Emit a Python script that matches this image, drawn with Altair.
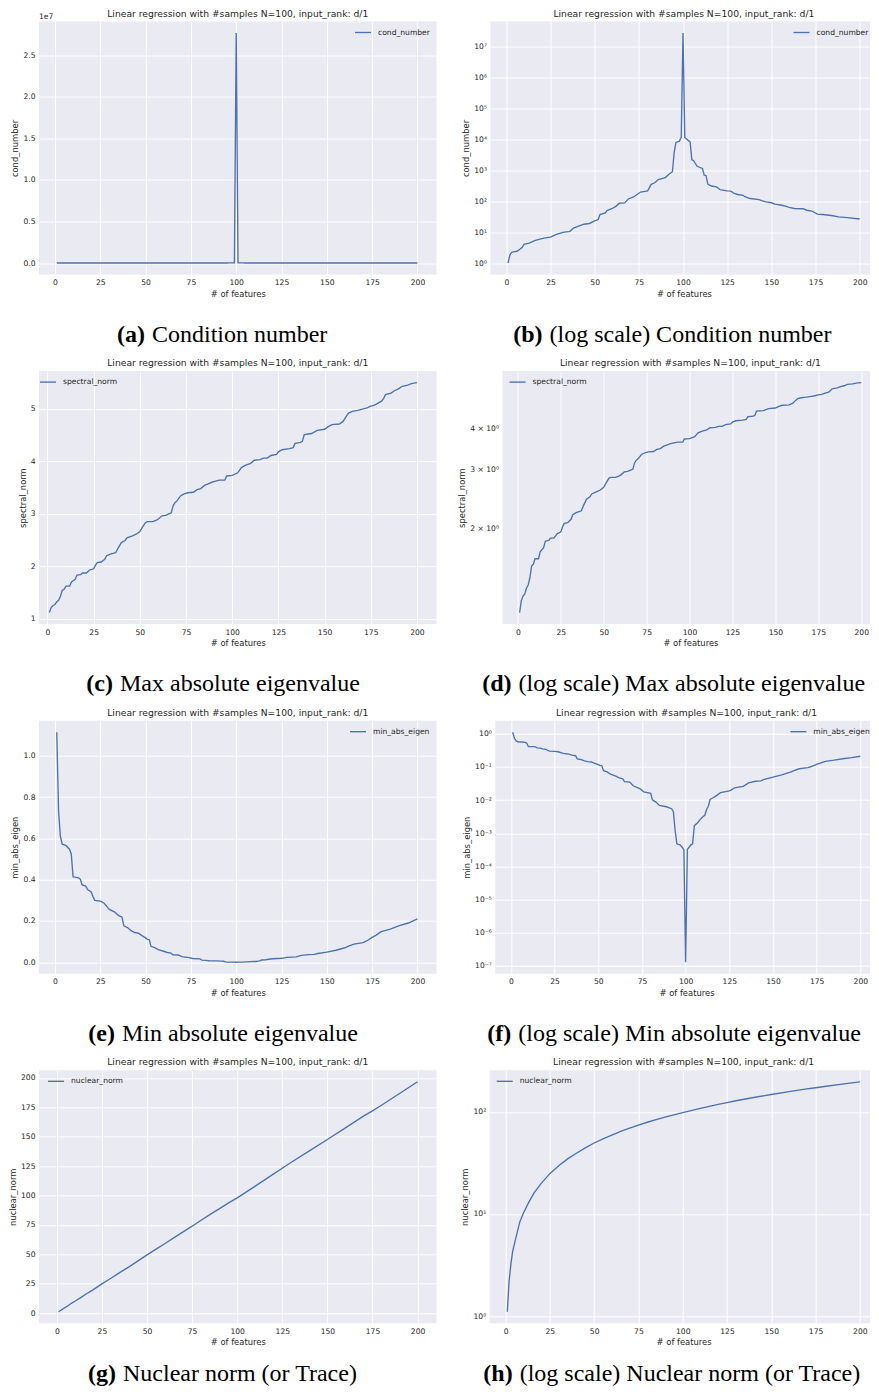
import json
import math
import altair as alt
import pandas as pd

TITLE = "Linear regression with #samples N=100, input_rank: d/1"
X_TITLE = "# of features"
X_TICKS = [0, 25, 50, 75, 100, 125, 150, 175, 200]
BLUE = "#4C72B0"
TXT = "#262626"
SERIF = "Liberation Serif"
SANS = "DejaVu Sans"

# ---- data ----
cond_features = [1, 2, 3, 4, 6, 7, 9, 10, 13, 16,
                 19, 22, 25, 28, 32, 36, 38, 42, 44, 47,
                 50, 52, 53, 56, 57, 60, 62, 64, 67, 69,
                 72, 74, 76, 80, 82, 84, 86, 90, 92, 94,
                 95, 96, 98, 99, 100, 101, 104, 105, 106, 108,
                 111, 112, 113, 114, 116, 119, 121, 125, 127, 129,
                 131, 134, 135, 138, 143, 145, 147, 150, 152, 156,
                 158, 160, 163, 168, 170, 173, 176, 179, 184, 188,
                 193, 200]
cond_number = [1.0, 1.8, 2.2, 2.3, 2.4, 2.6, 3.2, 4.0, 4.4, 5.3,
               5.9, 6.5, 6.9, 8.3, 9.8, 10.6, 13.5, 16.5, 18, 19,
               23, 25.5, 37, 42, 50, 58, 68, 86, 88, 118,
               137, 165, 198, 215, 350, 395, 500, 580, 740, 900,
               3800, 8000, 8800, 12000, 2.77e7, 11500, 8300, 2200, 2050, 1350,
               1150, 700, 680, 360, 310, 290, 235, 215, 212, 178,
               165, 155, 140, 122, 113, 103, 95, 89, 80, 74,
               69, 63, 58, 57, 51, 48, 38, 37, 34.5, 31,
               29.5, 26.5]

spec_features = [1, 2, 3, 4, 5, 6, 7, 8, 9, 10,
                 12, 13, 15, 16, 18, 19, 21, 23, 25, 26,
                 27, 29, 31, 32, 34, 36, 37, 38, 40, 42,
                 43, 46, 48, 50, 51, 53, 54, 57, 59, 60,
                 62, 64, 66, 67, 68, 69, 70, 72, 74, 76,
                 79, 81, 83, 85, 87, 89, 91, 93, 96, 97,
                 100, 103, 105, 107, 110, 112, 115, 117, 119, 121,
                 124, 125, 127, 131, 133, 134, 137, 138, 139, 143,
                 146, 150, 152, 154, 158, 160, 162, 163, 165, 168,
                 171, 173, 175, 177, 179, 181, 182, 183, 186, 188,
                 190, 192, 195, 197, 200]
spectral_norm = [1.115, 1.21, 1.25, 1.27, 1.32, 1.35, 1.42, 1.54, 1.56, 1.62,
                 1.62, 1.70, 1.75, 1.83, 1.84, 1.87, 1.87, 1.93, 1.95, 2.02,
                 2.07, 2.08, 2.13, 2.20, 2.23, 2.25, 2.26, 2.33, 2.45, 2.49,
                 2.54, 2.58, 2.61, 2.66, 2.72, 2.83, 2.85, 2.85, 2.88, 2.90,
                 2.96, 2.97, 3.0, 3.02, 3.15, 3.21, 3.24, 3.34, 3.38, 3.40,
                 3.41, 3.46, 3.48, 3.54, 3.57, 3.60, 3.62, 3.64, 3.64, 3.72,
                 3.73, 3.78, 3.88, 3.92, 3.96, 4.02, 4.03, 4.06, 4.06, 4.11,
                 4.13, 4.18, 4.22, 4.24, 4.26, 4.34, 4.36, 4.38, 4.51, 4.53,
                 4.59, 4.61, 4.66, 4.70, 4.71, 4.76, 4.87, 4.92, 4.95, 4.97,
                 5.0, 5.02, 5.05, 5.07, 5.11, 5.15, 5.20, 5.27, 5.30, 5.35,
                 5.38, 5.43, 5.45, 5.48, 5.50]

min_features = [1, 2, 3, 4, 6, 8, 9, 10, 13, 14,
                15, 17, 18, 20, 21, 22, 25, 27, 29, 30,
                33, 35, 37, 38, 40, 42, 44, 46, 48, 50,
                51, 52, 53, 55, 57, 60, 62, 64, 65, 68,
                70, 74, 76, 80, 81, 83, 85, 89, 92, 93,
                94, 95, 97, 98, 99, 100, 101, 102, 103, 104,
                105, 107, 108, 110, 111, 112, 113, 114, 116, 117,
                120, 125, 126, 128, 133, 136, 140, 143, 145, 150,
                155, 160, 162, 165, 170, 172, 175, 177, 180, 185,
                190, 195, 200]
min_abs_eigen = [1.115, 0.73, 0.61, 0.572, 0.566, 0.548, 0.525, 0.414, 0.409, 0.402,
                 0.375, 0.369, 0.352, 0.34, 0.318, 0.30, 0.296, 0.287, 0.266, 0.256,
                 0.243, 0.227, 0.218, 0.176, 0.168, 0.153, 0.144, 0.141, 0.129, 0.118,
                 0.111, 0.110, 0.077, 0.071, 0.061, 0.053, 0.047, 0.044, 0.036, 0.035,
                 0.027, 0.022, 0.0178, 0.016, 0.0102, 0.0087, 0.0069, 0.0063, 0.0055, 0.0045,
                 0.0012, 0.00048, 0.00044, 0.00038, 0.00032, 1.3e-7, 0.00033, 0.00038, 0.00045, 0.00048,
                 0.0017, 0.0021, 0.0025, 0.0032, 0.0035, 0.0052, 0.0065, 0.0105, 0.012, 0.013,
                 0.0168, 0.019, 0.020, 0.0235, 0.026, 0.033, 0.037, 0.038, 0.042, 0.049,
                 0.058, 0.07, 0.078, 0.088, 0.095, 0.103, 0.12, 0.13, 0.148, 0.16,
                 0.177, 0.19, 0.21]

nuc_features = [1, 2, 3, 4, 6, 8, 10, 13, 16, 20,
                25, 30, 35, 40, 45, 50, 55, 60, 65, 70,
                75, 80, 85, 90, 95, 100, 110, 120, 125, 130,
                140, 150, 160, 170, 175, 180, 190, 200]
nuclear_norm = [1.1, 2.2, 3.2, 4.3, 6.0, 8.3, 10.1, 12.9, 16.0, 19.8,
                24.8, 29.6, 34.6, 39.3, 44.4, 49.5, 54.4, 59.2, 64.2, 69.1,
                73.9, 79.0, 84.0, 88.6, 93.5, 98.0, 108.0, 118.2, 123.2, 128.3,
                138.0, 147.6, 157.5, 167.5, 172.0, 176.8, 186.8, 196.7]

SUP = str.maketrans("-0123456789", "⁻⁰¹²³⁴⁵⁶⁷⁸⁹")


def pow10_expr(lo, hi):
    arr = ["10" + str(e).translate(SUP) for e in range(lo, hi + 1)]
    return f"{json.dumps(arr, ensure_ascii=False)}[round(log(datum.value)/LN10) - ({lo})]"


def lin_domain(vals):
    lo, hi = min(vals), max(vals)
    m = 0.05 * (hi - lo)
    return [lo - m, hi + m]


def log_domain(vals):
    lo, hi = math.log10(min(vals)), math.log10(max(vals))
    m = 0.05 * (hi - lo)
    return [10 ** (lo - m), 10 ** (hi + m)]


X_DOMAIN = lin_domain([1, 200])
PLOT_H = 253
CAP_Y = 320
CAP_Y_LAST = 311
LEGEND_Y = 2
LEFT_W = 397.5


def panel(feats, vals, name, width, log, y_ticks, label_expr, y_grid, legend_x,
          cap_bold, cap_text, cap_split, cap_y=CAP_Y, x_domain=X_DOMAIN, extra=()):
    df = pd.DataFrame({"features": feats, "value": vals, "series": name})
    if log:
        yscale = alt.Scale(type="log", domain=log_domain(vals), nice=False)
    else:
        yscale = alt.Scale(domain=lin_domain(vals), nice=False, zero=False)
    ax = dict(values=y_ticks, title=name, grid=y_grid)
    if label_expr:
        ax["labelExpr"] = label_expr
    line = alt.Chart(df).mark_line(strokeWidth=1.35, clip=True).encode(
        x=alt.X("features:Q",
                scale=alt.Scale(domain=x_domain, nice=False, zero=False),
                axis=alt.Axis(values=X_TICKS, title=X_TITLE, labelFlush=False)),
        y=alt.Y("value:Q", scale=yscale, axis=alt.Axis(**ax)),
        color=alt.Color("series:N",
                        scale=alt.Scale(domain=[name], range=[BLUE]),
                        legend=alt.Legend(title=None, orient="none",
                                          legendX=legend_x, legendY=LEGEND_Y)),
    )
    txt_df = pd.DataFrame({"title": [TITLE], "bold": [cap_bold], "text": [cap_text]})
    title = alt.Chart(txt_df).mark_text(
        font=SANS, fontSize=9.2, color=TXT, align="center", baseline="middle"
    ).encode(text="title:N", x=alt.value(width / 2), y=alt.value(-8))
    cap_b = alt.Chart(txt_df).mark_text(
        font=SERIF, fontSize=24, fontWeight="bold", align="right",
        baseline="alphabetic", color="black"
    ).encode(text="bold:N", x=alt.value(cap_split), y=alt.value(cap_y))
    cap_t = alt.Chart(txt_df).mark_text(
        font=SERIF, fontSize=24, align="left", baseline="alphabetic", color="black"
    ).encode(text="text:N", x=alt.value(cap_split + 7), y=alt.value(cap_y))
    return alt.layer(line, title, cap_b, cap_t, *extra).properties(
        width=width, height=PLOT_H
    )


offset_df = pd.DataFrame({"t": ["1e7"]})
offset_text = alt.Chart(offset_df).mark_text(
    font=SANS, fontSize=7.6, color=TXT, align="left", baseline="middle"
).encode(text="t:N", x=alt.value(0), y=alt.value(-5))

pa = panel(cond_features, cond_number, "cond_number", LEFT_W, False,
           [0, 5e6, 1e7, 1.5e7, 2e7, 2.5e7], "format(datum.value/1e7, '.1f')", True, 315,
           "(a)", "Condition number", 106, x_domain=[-8.8, 210.5], extra=(offset_text,))
pb = panel(cond_features, cond_number, "cond_number", 386.8, True,
           [10 ** e for e in range(0, 8)], pow10_expr(0, 7), True, 302,
           "(b)", "(log scale) Condition number", 52)
pc = panel(spec_features, spectral_norm, "spectral_norm", LEFT_W, False,
           [1, 2, 3, 4, 5], None, True, 0,
           "(c)", "Max absolute eigenvalue", 74, x_domain=[-4.6, 210.6])
pd_ = panel(spec_features, spectral_norm, "spectral_norm", 375.8, True,
            [2, 3, 4], "datum.value + ' × 10⁰'", False, 6,
            "(d)", "(log scale) Max absolute eigenvalue", 9)
pe = panel(min_features, min_abs_eigen, "min_abs_eigen", LEFT_W, False,
           [0, 0.2, 0.4, 0.6, 0.8, 1.0], "format(datum.value, '.1f')", True, 310,
           "(e)", "Min absolute eigenvalue", 76, x_domain=[-8.8, 210.5])
pf = panel(min_features, min_abs_eigen, "min_abs_eigen", 382.4, True,
           [10.0 ** e for e in range(-7, 1)], pow10_expr(-7, 0), True, 294,
           "(f)", "(log scale) Min absolute eigenvalue", 16)
pg = panel(nuc_features, nuclear_norm, "nuclear_norm", LEFT_W, False,
           [0, 25, 50, 75, 100, 125, 150, 175, 200], None, True, 8,
           "(g)", "Nuclear norm (or Trace)", 77, cap_y=CAP_Y_LAST, x_domain=[-9.9, 210.5])
ph = panel(nuc_features, nuclear_norm, "nuclear_norm", 387.8, True,
           [1, 10, 100], pow10_expr(0, 2), True, 6,
           "(h)", "(log scale) Nuclear norm (or Trace)", 23, cap_y=CAP_Y_LAST)


def row(left, right, sp):
    return alt.hconcat(left, right, spacing=sp).resolve_scale(
        color="independent").resolve_legend(color="independent")


chart = alt.vconcat(
    row(pa, pb, 24.5), row(pc, pd_, 20.5), row(pe, pf, 25.3), row(pg, ph, 23.7), spacing=12.6
).resolve_scale(color="independent").resolve_legend(color="independent").properties(
    padding={"left": 0, "top": 1.5, "right": -9, "bottom": 0}
).configure_view(
    fill="#EAEAF2", strokeWidth=0
).configure_axis(
    labelFont=SANS, labelFontSize=7.6, labelColor=TXT,
    titleFont=SANS, titleFontSize=8.4, titleFontWeight="normal", titleColor=TXT,
    domain=False, ticks=False, tickSize=0,
    grid=True, gridColor="white", gridWidth=1, gridOpacity=1,
).configure_axisX(
    labelPadding=4, titlePadding=3
).configure_axisY(
    labelPadding=4, titlePadding=3
).configure_legend(
    labelFont=SANS, labelFontSize=7.6, labelColor=TXT,
    symbolType="stroke", symbolSize=256, symbolStrokeWidth=1.35,
    labelOffset=6, padding=0
)

chart.save("out.html", embed_options={"renderer": "svg", "actions": False})
